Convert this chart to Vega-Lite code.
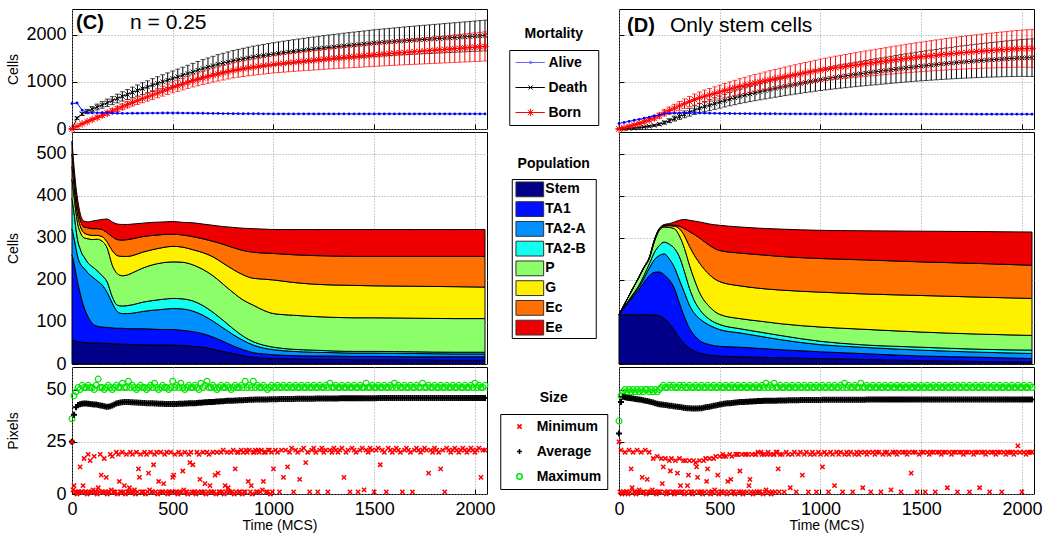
{
"$schema":"https://vega.github.io/schema/vega-lite/v6.json",
"padding":{"left":5,"top":8,"right":2,"bottom":0},
"config":{
 "font":"Liberation Sans",
 "view":{"stroke":"black","strokeWidth":1},
 "point":{"opacity":1},
 "axis":{"domain":false,"grid":true,"gridDash":[1,2],"gridColor":"#9a9a9a","gridOpacity":1,"tickColor":"black","tickSize":-5,"tickWidth":1,"labelFontSize":18,"labelColor":"black","labelPadding":11,"labelFlush":false,"titleFontSize":14,"titleFontWeight":"normal","titleColor":"black","format":"d"},
 "title":{"color":"black","fontWeight":"bold","fontSize":14}
},
"datasets":{
"cTop":[
{"t":0,"a":540,"d":0,"ds":0,"b":0,"bs":0},{"t":25,"a":550,"d":230,"ds":25,"b":55,"bs":8},{"t":50,"a":400,"d":320,"ds":35,"b":110,"bs":14},{"t":75,"a":350,"d":370,"ds":45,"b":155,"bs":20},{"t":100,"a":340,"d":420,"ds":55,"b":200,"bs":26},{"t":125,"a":342,"d":465,"ds":62,"b":245,"bs":32},{"t":150,"a":344,"d":510,"ds":70,"b":290,"bs":38},{"t":175,"a":345,"d":555,"ds":78,"b":335,"bs":44},{"t":200,"a":338,"d":600,"ds":85,"b":380,"bs":50},{"t":225,"a":333,"d":645,"ds":92,"b":425,"bs":56},{"t":250,"a":332,"d":690,"ds":99,"b":470,"bs":62},{"t":275,"a":332,"d":730,"ds":105,"b":515,"bs":68},{"t":300,"a":333,"d":775,"ds":112,"b":560,"bs":74},{"t":325,"a":334,"d":815,"ds":118,"b":600,"bs":79},{"t":350,"a":335,"d":855,"ds":124,"b":640,"bs":84},{"t":375,"a":336,"d":890,"ds":130,"b":680,"bs":89},{"t":400,"a":337,"d":930,"ds":136,"b":720,"bs":94},{"t":425,"a":337,"d":965,"ds":142,"b":760,"bs":99},{"t":450,"a":338,"d":1000,"ds":148,"b":800,"bs":104},{"t":475,"a":338,"d":1035,"ds":153,"b":840,"bs":109},{"t":500,"a":339,"d":1070,"ds":158,"b":880,"bs":114},{"t":525,"a":338,"d":1105,"ds":163,"b":915,"bs":118},{"t":550,"a":337,"d":1140,"ds":168,"b":950,"bs":122},{"t":575,"a":337,"d":1175,"ds":174,"b":985,"bs":126},{"t":600,"a":336,"d":1210,"ds":179,"b":1020,"bs":130},{"t":625,"a":335,"d":1245,"ds":184,"b":1050,"bs":134},{"t":650,"a":333,"d":1280,"ds":189,"b":1080,"bs":138},{"t":675,"a":332,"d":1310,"ds":194,"b":1110,"bs":142},{"t":700,"a":330,"d":1340,"ds":199,"b":1140,"bs":146},{"t":725,"a":329,"d":1370,"ds":204,"b":1165,"bs":150},{"t":750,"a":327,"d":1395,"ds":208,"b":1190,"bs":153},{"t":775,"a":326,"d":1420,"ds":212,"b":1215,"bs":156},{"t":800,"a":325,"d":1445,"ds":216,"b":1240,"bs":159},{"t":825,"a":324,"d":1465,"ds":220,"b":1258,"bs":162},{"t":850,"a":323,"d":1485,"ds":223,"b":1276,"bs":165},{"t":875,"a":323,"d":1505,"ds":226,"b":1294,"bs":168},{"t":900,"a":322,"d":1525,"ds":229,"b":1310,"bs":171},{"t":925,"a":322,"d":1540,"ds":232,"b":1325,"bs":174},{"t":950,"a":321,"d":1555,"ds":235,"b":1340,"bs":177},{"t":975,"a":321,"d":1570,"ds":238,"b":1355,"bs":180},{"t":1000,"a":320,"d":1585,"ds":241,"b":1370,"bs":183},{"t":1025,"a":320,"d":1600,"ds":243,"b":1381,"bs":186},{"t":1050,"a":320,"d":1614,"ds":245,"b":1392,"bs":189},{"t":1075,"a":320,"d":1628,"ds":247,"b":1403,"bs":192},{"t":1100,"a":320,"d":1641,"ds":249,"b":1414,"bs":195},{"t":1125,"a":320,"d":1654,"ds":251,"b":1425,"bs":198},{"t":1150,"a":320,"d":1667,"ds":253,"b":1436,"bs":201},{"t":1175,"a":320,"d":1679,"ds":255,"b":1446,"bs":204},{"t":1200,"a":320,"d":1691,"ds":257,"b":1456,"bs":207},{"t":1225,"a":320,"d":1703,"ds":259,"b":1466,"bs":210},{"t":1250,"a":320,"d":1715,"ds":261,"b":1476,"bs":213},{"t":1275,"a":320,"d":1726,"ds":263,"b":1486,"bs":216},{"t":1300,"a":320,"d":1737,"ds":265,"b":1496,"bs":219},{"t":1325,"a":320,"d":1748,"ds":267,"b":1505,"bs":222},{"t":1350,"a":320,"d":1759,"ds":269,"b":1514,"bs":225},{"t":1375,"a":320,"d":1769,"ds":271,"b":1523,"bs":228},{"t":1400,"a":320,"d":1779,"ds":273,"b":1532,"bs":231},{"t":1425,"a":320,"d":1789,"ds":275,"b":1541,"bs":234},{"t":1450,"a":320,"d":1799,"ds":277,"b":1550,"bs":237},{"t":1475,"a":320,"d":1809,"ds":279,"b":1559,"bs":240},{"t":1500,"a":320,"d":1819,"ds":281,"b":1568,"bs":243},{"t":1525,"a":320,"d":1827,"ds":283,"b":1577,"bs":246},{"t":1550,"a":320,"d":1835,"ds":285,"b":1586,"bs":249},{"t":1575,"a":320,"d":1843,"ds":287,"b":1595,"bs":252},{"t":1600,"a":320,"d":1851,"ds":289,"b":1604,"bs":255},{"t":1625,"a":320,"d":1859,"ds":291,"b":1612,"bs":258},{"t":1650,"a":320,"d":1867,"ds":293,"b":1620,"bs":261},{"t":1675,"a":320,"d":1874,"ds":295,"b":1628,"bs":264},{"t":1700,"a":320,"d":1881,"ds":297,"b":1636,"bs":267},{"t":1725,"a":320,"d":1888,"ds":299,"b":1644,"bs":270},{"t":1750,"a":320,"d":1895,"ds":301,"b":1652,"bs":273},{"t":1775,"a":320,"d":1902,"ds":303,"b":1660,"bs":276},{"t":1800,"a":320,"d":1909,"ds":305,"b":1668,"bs":279},{"t":1825,"a":320,"d":1916,"ds":307,"b":1676,"bs":282},{"t":1850,"a":320,"d":1923,"ds":309,"b":1684,"bs":285},{"t":1875,"a":320,"d":1930,"ds":311,"b":1692,"bs":288},{"t":1900,"a":320,"d":1937,"ds":313,"b":1700,"bs":291},{"t":1925,"a":320,"d":1944,"ds":315,"b":1708,"bs":294},{"t":1950,"a":320,"d":1951,"ds":317,"b":1716,"bs":297},{"t":1975,"a":320,"d":1958,"ds":319,"b":1724,"bs":300},{"t":2000,"a":320,"d":1965,"ds":321,"b":1732,"bs":303},{"t":2025,"a":320,"d":1972,"ds":323,"b":1740,"bs":306},{"t":2050,"a":320,"d":1979,"ds":325,"b":1748,"bs":309}
],
"dTop":[
{"t":0,"a":117,"d":0,"ds":0,"b":0,"bs":0},{"t":25,"a":140,"d":5,"ds":2,"b":28,"bs":6},{"t":50,"a":163,"d":12,"ds":4,"b":58,"bs":12},{"t":75,"a":185,"d":20,"ds":6,"b":88,"bs":18},{"t":100,"a":205,"d":30,"ds":9,"b":118,"bs":24},{"t":125,"a":228,"d":42,"ds":12,"b":153,"bs":30},{"t":150,"a":250,"d":57,"ds":15,"b":190,"bs":37},{"t":175,"a":275,"d":75,"ds":19,"b":233,"bs":45},{"t":200,"a":300,"d":100,"ds":25,"b":283,"bs":55},{"t":225,"a":325,"d":135,"ds":33,"b":343,"bs":66},{"t":250,"a":332,"d":175,"ds":42,"b":390,"bs":75},{"t":275,"a":336,"d":220,"ds":52,"b":439,"bs":84},{"t":300,"a":341,"d":265,"ds":62,"b":489,"bs":93},{"t":325,"a":343,"d":310,"ds":72,"b":536,"bs":101},{"t":350,"a":342,"d":355,"ds":82,"b":580,"bs":109},{"t":375,"a":340,"d":400,"ds":92,"b":623,"bs":117},{"t":400,"a":338,"d":440,"ds":100,"b":661,"bs":124},{"t":425,"a":336,"d":475,"ds":108,"b":694,"bs":130},{"t":450,"a":334,"d":505,"ds":115,"b":722,"bs":135},{"t":475,"a":332,"d":538,"ds":122,"b":753,"bs":140},{"t":500,"a":330,"d":570,"ds":128,"b":783,"bs":145},{"t":525,"a":329,"d":601,"ds":134,"b":813,"bs":150},{"t":550,"a":328,"d":632,"ds":140,"b":843,"bs":155},{"t":575,"a":327,"d":661,"ds":146,"b":871,"bs":160},{"t":600,"a":326,"d":690,"ds":152,"b":899,"bs":165},{"t":625,"a":325,"d":716,"ds":157,"b":924,"bs":170},{"t":650,"a":325,"d":742,"ds":162,"b":950,"bs":175},{"t":675,"a":324,"d":766,"ds":167,"b":973,"bs":180},{"t":700,"a":323,"d":790,"ds":172,"b":996,"bs":185},{"t":725,"a":323,"d":813,"ds":177,"b":1019,"bs":189},{"t":750,"a":322,"d":836,"ds":182,"b":1041,"bs":193},{"t":775,"a":322,"d":858,"ds":186,"b":1063,"bs":197},{"t":800,"a":321,"d":880,"ds":190,"b":1084,"bs":201},{"t":825,"a":321,"d":902,"ds":195,"b":1106,"bs":205},{"t":850,"a":320,"d":923,"ds":200,"b":1126,"bs":209},{"t":875,"a":320,"d":944,"ds":205,"b":1147,"bs":213},{"t":900,"a":319,"d":965,"ds":210,"b":1167,"bs":217},{"t":925,"a":319,"d":985,"ds":215,"b":1187,"bs":221},{"t":950,"a":319,"d":1005,"ds":220,"b":1207,"bs":225},{"t":975,"a":318,"d":1025,"ds":225,"b":1226,"bs":229},{"t":1000,"a":318,"d":1045,"ds":230,"b":1246,"bs":233},{"t":1025,"a":318,"d":1062,"ds":234,"b":1263,"bs":237},{"t":1050,"a":318,"d":1079,"ds":238,"b":1280,"bs":241},{"t":1075,"a":318,"d":1095,"ds":242,"b":1296,"bs":245},{"t":1100,"a":317,"d":1110,"ds":246,"b":1310,"bs":249},{"t":1125,"a":317,"d":1125,"ds":250,"b":1325,"bs":253},{"t":1150,"a":317,"d":1140,"ds":254,"b":1340,"bs":257},{"t":1175,"a":317,"d":1155,"ds":258,"b":1355,"bs":261},{"t":1200,"a":317,"d":1170,"ds":262,"b":1370,"bs":265},{"t":1225,"a":317,"d":1184,"ds":266,"b":1384,"bs":269},{"t":1250,"a":316,"d":1198,"ds":270,"b":1397,"bs":273},{"t":1275,"a":316,"d":1212,"ds":274,"b":1411,"bs":277},{"t":1300,"a":316,"d":1225,"ds":278,"b":1424,"bs":281},{"t":1325,"a":316,"d":1238,"ds":282,"b":1437,"bs":285},{"t":1350,"a":316,"d":1252,"ds":286,"b":1451,"bs":289},{"t":1375,"a":316,"d":1266,"ds":290,"b":1465,"bs":293},{"t":1400,"a":316,"d":1280,"ds":294,"b":1479,"bs":297},{"t":1425,"a":316,"d":1293,"ds":298,"b":1492,"bs":301},{"t":1450,"a":315,"d":1305,"ds":302,"b":1503,"bs":305},{"t":1475,"a":315,"d":1318,"ds":306,"b":1516,"bs":309},{"t":1500,"a":315,"d":1330,"ds":310,"b":1528,"bs":313},{"t":1525,"a":315,"d":1341,"ds":314,"b":1539,"bs":317},{"t":1550,"a":315,"d":1352,"ds":318,"b":1550,"bs":321},{"t":1575,"a":315,"d":1363,"ds":322,"b":1561,"bs":325},{"t":1600,"a":315,"d":1375,"ds":326,"b":1573,"bs":329},{"t":1625,"a":315,"d":1385,"ds":330,"b":1583,"bs":333},{"t":1650,"a":315,"d":1395,"ds":334,"b":1593,"bs":337},{"t":1675,"a":315,"d":1405,"ds":338,"b":1603,"bs":341},{"t":1700,"a":315,"d":1415,"ds":342,"b":1613,"bs":345},{"t":1725,"a":315,"d":1424,"ds":346,"b":1622,"bs":349},{"t":1750,"a":314,"d":1433,"ds":350,"b":1630,"bs":353},{"t":1775,"a":314,"d":1441,"ds":354,"b":1638,"bs":357},{"t":1800,"a":314,"d":1450,"ds":358,"b":1647,"bs":361},{"t":1825,"a":314,"d":1458,"ds":362,"b":1655,"bs":365},{"t":1850,"a":314,"d":1465,"ds":366,"b":1662,"bs":369},{"t":1875,"a":314,"d":1472,"ds":370,"b":1669,"bs":373},{"t":1900,"a":314,"d":1480,"ds":374,"b":1677,"bs":377},{"t":1925,"a":314,"d":1487,"ds":378,"b":1684,"bs":381},{"t":1950,"a":314,"d":1493,"ds":382,"b":1690,"bs":385},{"t":1975,"a":314,"d":1499,"ds":386,"b":1696,"bs":389},{"t":2000,"a":314,"d":1504,"ds":390,"b":1701,"bs":393},{"t":2025,"a":314,"d":1507,"ds":394,"b":1704,"bs":397},{"t":2050,"a":314,"d":1510,"ds":398,"b":1707,"bs":401}
],
"cMid":[
{"t":0,"Stem":56,"TA1":204,"TA2-A":62,"TA2-B":72,"P":46,"G":30,"Ec":30,"Ee":30},
{"t":10,"Stem":55,"TA1":185,"TA2-A":60,"TA2-B":60,"P":40,"G":25,"Ec":25,"Ee":20},
{"t":20,"Stem":54,"TA1":161,"TA2-A":60,"TA2-B":45,"P":40,"G":20,"Ec":20,"Ee":20},
{"t":30,"Stem":53,"TA1":137,"TA2-A":62,"TA2-B":38,"P":40,"G":20,"Ec":18,"Ee":17},
{"t":40,"Stem":52,"TA1":118,"TA2-A":70,"TA2-B":35,"P":40,"G":15,"Ec":15,"Ee":15},
{"t":50,"Stem":52,"TA1":98,"TA2-A":82,"TA2-B":30,"P":43,"G":13,"Ec":14,"Ee":13},
{"t":60,"Stem":51,"TA1":84,"TA2-A":93,"TA2-B":27,"P":45,"G":12,"Ec":14,"Ee":14},
{"t":80,"Stem":51,"TA1":61,"TA2-A":104,"TA2-B":24,"P":58,"G":10,"Ec":16,"Ee":14},
{"t":100,"Stem":50,"TA1":47,"TA2-A":111,"TA2-B":24,"P":64,"G":10,"Ec":16,"Ee":18},
{"t":125,"Stem":50,"TA1":40,"TA2-A":108,"TA2-B":24,"P":75,"G":9,"Ec":16,"Ee":20},
{"t":150,"Stem":49,"TA1":39,"TA2-A":100,"TA2-B":22,"P":82,"G":11,"Ec":17,"Ee":24},
{"t":175,"Stem":49,"TA1":38,"TA2-A":83,"TA2-B":25,"P":81,"G":14,"Ec":22,"Ee":33},
{"t":200,"Stem":48,"TA1":38,"TA2-A":59,"TA2-B":15,"P":75,"G":35,"Ec":33,"Ee":35},
{"t":225,"Stem":48,"TA1":37,"TA2-A":40,"TA2-B":15,"P":75,"G":43,"Ec":38,"Ee":37},
{"t":250,"Stem":47,"TA1":38,"TA2-A":35,"TA2-B":18,"P":72,"G":46,"Ec":39,"Ee":37},
{"t":275,"Stem":47,"TA1":37,"TA2-A":36,"TA2-B":19,"P":73,"G":44,"Ec":40,"Ee":36},
{"t":300,"Stem":46,"TA1":38,"TA2-A":37,"TA2-B":20,"P":76,"G":41,"Ec":40,"Ee":35},
{"t":350,"Stem":46,"TA1":38,"TA2-A":41,"TA2-B":22,"P":81,"G":38,"Ec":37,"Ee":32},
{"t":400,"Stem":45,"TA1":38,"TA2-A":45,"TA2-B":23,"P":85,"G":36,"Ec":34,"Ee":31},
{"t":450,"Stem":45,"TA1":37,"TA2-A":48,"TA2-B":24,"P":87,"G":36,"Ec":31,"Ee":30},
{"t":500,"Stem":45,"TA1":37,"TA2-A":50,"TA2-B":24,"P":87,"G":37,"Ec":29,"Ee":30},
{"t":550,"Stem":44,"TA1":36,"TA2-A":51,"TA2-B":24,"P":87,"G":36,"Ec":29,"Ee":30},
{"t":600,"Stem":42,"TA1":35,"TA2-A":49,"TA2-B":24,"P":86,"G":36,"Ec":31,"Ee":33},
{"t":650,"Stem":40,"TA1":32,"TA2-A":44,"TA2-B":23,"P":86,"G":40,"Ec":33,"Ee":35},
{"t":700,"Stem":35,"TA1":29,"TA2-A":38,"TA2-B":21,"P":87,"G":45,"Ec":37,"Ee":38},
{"t":750,"Stem":30,"TA1":24,"TA2-A":32,"TA2-B":18,"P":86,"G":50,"Ec":45,"Ee":42},
{"t":800,"Stem":25,"TA1":18,"TA2-A":27,"TA2-B":14,"P":86,"G":55,"Ec":52,"Ee":48},
{"t":850,"Stem":20,"TA1":14,"TA2-A":22,"TA2-B":10,"P":86,"G":60,"Ec":58,"Ee":53},
{"t":900,"Stem":16,"TA1":11,"TA2-A":18,"TA2-B":8,"P":87,"G":64,"Ec":62,"Ee":56},
{"t":950,"Stem":14,"TA1":10,"TA2-A":14,"TA2-B":7,"P":83,"G":74,"Ec":62,"Ee":57},
{"t":1000,"Stem":13,"TA1":9,"TA2-A":12,"TA2-B":6,"P":80,"G":80,"Ec":63,"Ee":57},
{"t":1100,"Stem":12,"TA1":8,"TA2-A":10,"TA2-B":5,"P":81,"G":78,"Ec":66,"Ee":60},
{"t":1200,"Stem":11,"TA1":8,"TA2-A":9,"TA2-B":5,"P":80,"G":77,"Ec":68,"Ee":62},
{"t":1300,"Stem":11,"TA1":8,"TA2-A":8,"TA2-B":4,"P":80,"G":77,"Ec":69,"Ee":63},
{"t":1400,"Stem":10,"TA1":8,"TA2-A":8,"TA2-B":4,"P":80,"G":77,"Ec":69,"Ee":64},
{"t":1500,"Stem":10,"TA1":8,"TA2-A":8,"TA2-B":4,"P":80,"G":76,"Ec":70,"Ee":64},
{"t":1700,"Stem":10,"TA1":7,"TA2-A":8,"TA2-B":4,"P":80,"G":76,"Ec":71,"Ee":64},
{"t":1900,"Stem":9,"TA1":8,"TA2-A":7,"TA2-B":4,"P":80,"G":76,"Ec":72,"Ee":64},
{"t":2050,"Stem":9,"TA1":8,"TA2-A":7,"TA2-B":4,"P":80,"G":75,"Ec":73,"Ee":64}
],
"dMid":[
{"t":0,"Stem":117,"TA1":0,"TA2-A":0,"TA2-B":0,"P":0,"G":0,"Ec":0,"Ee":0},
{"t":25,"Stem":117,"TA1":16,"TA2-A":2,"TA2-B":1,"P":4,"G":0,"Ec":0,"Ee":0},
{"t":50,"Stem":117,"TA1":31,"TA2-A":3,"TA2-B":2,"P":10,"G":0,"Ec":0,"Ee":0},
{"t":75,"Stem":117,"TA1":46,"TA2-A":4,"TA2-B":3,"P":15,"G":0,"Ec":0,"Ee":1},
{"t":100,"Stem":117,"TA1":61,"TA2-A":6,"TA2-B":4,"P":19,"G":1,"Ec":0,"Ee":0},
{"t":125,"Stem":117,"TA1":78,"TA2-A":10,"TA2-B":7,"P":18,"G":1,"Ec":0,"Ee":0},
{"t":150,"Stem":117,"TA1":93,"TA2-A":18,"TA2-B":10,"P":12,"G":2,"Ec":1,"Ee":0},
{"t":175,"Stem":117,"TA1":101,"TA2-A":30,"TA2-B":17,"P":25,"G":3,"Ec":1,"Ee":0},
{"t":200,"Stem":115,"TA1":104,"TA2-A":39,"TA2-B":24,"P":36,"G":3,"Ec":1,"Ee":0},
{"t":225,"Stem":108,"TA1":104,"TA2-A":50,"TA2-B":28,"P":36,"G":2,"Ec":2,"Ee":2},
{"t":250,"Stem":96,"TA1":104,"TA2-A":50,"TA2-B":35,"P":40,"G":4,"Ec":2,"Ee":3},
{"t":275,"Stem":80,"TA1":100,"TA2-A":50,"TA2-B":45,"P":47,"G":6,"Ec":2,"Ee":8},
{"t":300,"Stem":62,"TA1":83,"TA2-A":55,"TA2-B":55,"P":50,"G":17,"Ec":6,"Ee":14},
{"t":325,"Stem":48,"TA1":64,"TA2-A":58,"TA2-B":50,"P":55,"G":30,"Ec":17,"Ee":22},
{"t":350,"Stem":38,"TA1":47,"TA2-A":55,"TA2-B":40,"P":55,"G":45,"Ec":35,"Ee":27},
{"t":375,"Stem":31,"TA1":37,"TA2-A":52,"TA2-B":30,"P":50,"G":58,"Ec":50,"Ee":32},
{"t":400,"Stem":26,"TA1":30,"TA2-A":52,"TA2-B":22,"P":40,"G":70,"Ec":60,"Ee":38},
{"t":450,"Stem":21,"TA1":25,"TA2-A":46,"TA2-B":14,"P":30,"G":76,"Ec":70,"Ee":51},
{"t":500,"Stem":19,"TA1":23,"TA2-A":40,"TA2-B":12,"P":24,"G":78,"Ec":74,"Ee":60},
{"t":600,"Stem":17,"TA1":23,"TA2-A":34,"TA2-B":10,"P":24,"G":78,"Ec":78,"Ee":62},
{"t":700,"Stem":16,"TA1":21,"TA2-A":29,"TA2-B":10,"P":26,"G":78,"Ec":80,"Ee":63},
{"t":800,"Stem":15,"TA1":19,"TA2-A":24,"TA2-B":10,"P":28,"G":80,"Ec":80,"Ee":65},
{"t":1000,"Stem":13,"TA1":16,"TA2-A":17,"TA2-B":8,"P":34,"G":83,"Ec":80,"Ee":67},
{"t":1200,"Stem":11,"TA1":14,"TA2-A":15,"TA2-B":6,"P":37,"G":84,"Ec":81,"Ee":69},
{"t":1500,"Stem":8,"TA1":11,"TA2-A":14,"TA2-B":7,"P":36,"G":87,"Ec":80,"Ee":73},
{"t":1800,"Stem":6,"TA1":10,"TA2-A":12,"TA2-B":7,"P":36,"G":88,"Ec":80,"Ee":76},
{"t":2050,"Stem":5,"TA1":8,"TA2-A":12,"TA2-B":8,"P":35,"G":88,"Ec":79,"Ee":79}
],
"cMin2":[
{"t":5,"mn":2},{"t":15,"mn":1},{"t":25,"mn":0},{"t":35,"mn":1},{"t":45,"mn":1},{"t":55,"mn":4},{"t":65,"mn":1},{"t":75,"mn":0},{"t":85,"mn":1},{"t":95,"mn":1},{"t":105,"mn":2},{"t":115,"mn":1},{"t":125,"mn":0},{"t":135,"mn":1},{"t":145,"mn":9},{"t":155,"mn":1},{"t":165,"mn":1},{"t":175,"mn":0},{"t":185,"mn":1},{"t":195,"mn":2},{"t":205,"mn":1},{"t":215,"mn":1},{"t":225,"mn":0},{"t":235,"mn":6},{"t":245,"mn":1},{"t":255,"mn":1},{"t":265,"mn":0},{"t":275,"mn":1},{"t":285,"mn":3},{"t":295,"mn":1},{"t":305,"mn":1},{"t":315,"mn":0},{"t":325,"mn":1},{"t":335,"mn":8},{"t":345,"mn":1},{"t":355,"mn":1},{"t":365,"mn":0},{"t":375,"mn":1},{"t":385,"mn":2},{"t":395,"mn":1},{"t":405,"mn":14},{"t":415,"mn":1},{"t":425,"mn":0},{"t":435,"mn":1},{"t":445,"mn":1},{"t":455,"mn":5},{"t":465,"mn":1},{"t":475,"mn":0},{"t":485,"mn":1},{"t":495,"mn":1},{"t":505,"mn":9},{"t":515,"mn":1},{"t":525,"mn":0},{"t":535,"mn":1},{"t":545,"mn":1},{"t":555,"mn":2},{"t":565,"mn":1},{"t":575,"mn":0},{"t":585,"mn":15},{"t":595,"mn":1},{"t":605,"mn":1},{"t":615,"mn":0},{"t":625,"mn":1},{"t":635,"mn":7},{"t":645,"mn":1},{"t":655,"mn":1},{"t":665,"mn":0},{"t":675,"mn":1},{"t":685,"mn":4},{"t":695,"mn":1},{"t":705,"mn":1},{"t":715,"mn":0},{"t":725,"mn":10},{"t":735,"mn":1},{"t":745,"mn":1},{"t":755,"mn":0},{"t":765,"mn":1},{"t":775,"mn":3},{"t":785,"mn":1},{"t":795,"mn":1},{"t":805,"mn":0},{"t":815,"mn":1},{"t":825,"mn":20},{"t":835,"mn":1},{"t":845,"mn":0},{"t":855,"mn":1},{"t":865,"mn":21},{"t":875,"mn":6},{"t":885,"mn":1},{"t":895,"mn":0},{"t":905,"mn":20},{"t":915,"mn":1},{"t":925,"mn":21},{"t":935,"mn":1},{"t":945,"mn":2},{"t":955,"mn":20},{"t":965,"mn":1},{"t":975,"mn":21},{"t":985,"mn":0},{"t":995,"mn":1}
],
"dMin2":[
{"t":5,"mn":1},{"t":15,"mn":0},{"t":25,"mn":1},{"t":35,"mn":1},{"t":45,"mn":0},{"t":55,"mn":1},{"t":65,"mn":3},{"t":75,"mn":1},{"t":85,"mn":0},{"t":95,"mn":1},{"t":105,"mn":1},{"t":115,"mn":8},{"t":125,"mn":1},{"t":135,"mn":0},{"t":145,"mn":1},{"t":155,"mn":1},{"t":165,"mn":2},{"t":175,"mn":1},{"t":185,"mn":0},{"t":195,"mn":1},{"t":205,"mn":1},{"t":215,"mn":5},{"t":225,"mn":1},{"t":235,"mn":0},{"t":245,"mn":1},{"t":255,"mn":11},{"t":265,"mn":1},{"t":275,"mn":0},{"t":285,"mn":1},{"t":295,"mn":1},{"t":305,"mn":4},{"t":315,"mn":1},{"t":325,"mn":0},{"t":335,"mn":1},{"t":345,"mn":9},{"t":355,"mn":1},{"t":365,"mn":0},{"t":375,"mn":1},{"t":385,"mn":13},{"t":395,"mn":1},{"t":405,"mn":1},{"t":415,"mn":0},{"t":425,"mn":1},{"t":435,"mn":6},{"t":445,"mn":1},{"t":455,"mn":0},{"t":465,"mn":1},{"t":475,"mn":2},{"t":485,"mn":1},{"t":495,"mn":0},{"t":505,"mn":1},{"t":515,"mn":19},{"t":525,"mn":1},{"t":535,"mn":0},{"t":545,"mn":1},{"t":555,"mn":7},{"t":565,"mn":1},{"t":575,"mn":0},{"t":585,"mn":19},{"t":595,"mn":1},{"t":605,"mn":1},{"t":615,"mn":0},{"t":625,"mn":19},{"t":635,"mn":1},{"t":645,"mn":4},{"t":655,"mn":1},{"t":665,"mn":0},{"t":675,"mn":19},{"t":685,"mn":1},{"t":695,"mn":1},{"t":705,"mn":20},{"t":715,"mn":0},{"t":725,"mn":1},{"t":735,"mn":19},{"t":745,"mn":1},{"t":755,"mn":0},{"t":765,"mn":19},{"t":775,"mn":1},{"t":785,"mn":20},{"t":795,"mn":1}
],
"cBot":[
{"t":0,"av":25,"mx":36,"mn":25},{"t":10,"av":38,"mx":47,"mn":4},{"t":20,"av":41.5,"mx":49,"mn":1},{"t":30,"av":42.6,"mx":51,"mn":1},{"t":40,"av":43,"mx":50,"mn":13},{"t":50,"av":43.2,"mx":52,"mn":1},{"t":60,"av":43.3,"mx":51,"mn":17},{"t":70,"av":43.3,"mx":51,"mn":1},{"t":80,"av":43.2,"mx":52,"mn":19},{"t":90,"av":43.1,"mx":51,"mn":16},{"t":100,"av":43,"mx":51,"mn":1},{"t":110,"av":42.9,"mx":50,"mn":18},{"t":120,"av":42.8,"mx":52,"mn":1},{"t":130,"av":42.6,"mx":55,"mn":3},{"t":140,"av":42.4,"mx":51,"mn":19},{"t":150,"av":42.2,"mx":51,"mn":1},{"t":160,"av":42,"mx":50,"mn":17},{"t":170,"av":41.8,"mx":51,"mn":8},{"t":180,"av":41.8,"mx":52,"mn":1},{"t":190,"av":42,"mx":51,"mn":19},{"t":200,"av":42.4,"mx":50,"mn":18},{"t":210,"av":42.9,"mx":51,"mn":1},{"t":220,"av":43.3,"mx":52,"mn":20},{"t":230,"av":43.6,"mx":51,"mn":19},{"t":240,"av":43.8,"mx":51,"mn":1},{"t":250,"av":43.9,"mx":53,"mn":20},{"t":260,"av":44,"mx":51,"mn":4},{"t":270,"av":44,"mx":51,"mn":19},{"t":280,"av":44,"mx":54,"mn":1},{"t":290,"av":43.9,"mx":51,"mn":20},{"t":300,"av":43.9,"mx":52,"mn":19},{"t":310,"av":43.8,"mx":51,"mn":2},{"t":320,"av":43.8,"mx":50,"mn":20},{"t":330,"av":43.7,"mx":51,"mn":12},{"t":340,"av":43.7,"mx":52,"mn":19},{"t":350,"av":43.6,"mx":51,"mn":1},{"t":360,"av":43.6,"mx":51,"mn":20},{"t":370,"av":43.5,"mx":50,"mn":19},{"t":380,"av":43.5,"mx":51,"mn":10},{"t":390,"av":43.4,"mx":52,"mn":20},{"t":400,"av":43.4,"mx":51,"mn":1},{"t":410,"av":43.3,"mx":53,"mn":19},{"t":420,"av":43.3,"mx":51,"mn":20},{"t":430,"av":43.2,"mx":50,"mn":6},{"t":440,"av":43.2,"mx":51,"mn":20},{"t":450,"av":43.2,"mx":52,"mn":1},{"t":460,"av":43.1,"mx":51,"mn":19},{"t":470,"av":43.1,"mx":51,"mn":20},{"t":480,"av":43.1,"mx":50,"mn":1},{"t":490,"av":43.1,"mx":51,"mn":20},{"t":500,"av":43.1,"mx":54,"mn":8},{"t":510,"av":43.1,"mx":51,"mn":19},{"t":520,"av":43.1,"mx":52,"mn":1},{"t":530,"av":43.2,"mx":51,"mn":20},{"t":540,"av":43.2,"mx":53,"mn":19},{"t":550,"av":43.2,"mx":51,"mn":11},{"t":560,"av":43.3,"mx":50,"mn":20},{"t":570,"av":43.3,"mx":51,"mn":1},{"t":580,"av":43.4,"mx":52,"mn":19},{"t":590,"av":43.4,"mx":51,"mn":20},{"t":600,"av":43.5,"mx":51,"mn":14},{"t":610,"av":43.5,"mx":52,"mn":1},{"t":620,"av":43.6,"mx":51,"mn":20},{"t":630,"av":43.7,"mx":50,"mn":19},{"t":640,"av":43.7,"mx":53,"mn":1},{"t":650,"av":43.8,"mx":51,"mn":20},{"t":660,"av":43.9,"mx":52,"mn":5},{"t":670,"av":43.9,"mx":54,"mn":20},{"t":680,"av":44,"mx":51,"mn":19},{"t":690,"av":44.1,"mx":51,"mn":1},{"t":700,"av":44.1,"mx":52,"mn":20},{"t":710,"av":44.2,"mx":51,"mn":9},{"t":720,"av":44.3,"mx":50,"mn":20},{"t":730,"av":44.3,"mx":51,"mn":1},{"t":740,"av":44.4,"mx":52,"mn":20},{"t":750,"av":44.4,"mx":51,"mn":21},{"t":760,"av":44.5,"mx":51,"mn":4},{"t":770,"av":44.6,"mx":52,"mn":20},{"t":780,"av":44.6,"mx":51,"mn":1},{"t":790,"av":44.7,"mx":50,"mn":20},{"t":800,"av":44.7,"mx":51,"mn":21},{"t":810,"av":44.8,"mx":52,"mn":12},{"t":820,"av":44.8,"mx":51,"mn":20},{"t":830,"av":44.9,"mx":51,"mn":1},{"t":840,"av":44.9,"mx":52,"mn":21},{"t":850,"av":44.9,"mx":51,"mn":20},{"t":860,"av":45,"mx":54,"mn":1},{"t":870,"av":45,"mx":51,"mn":20},{"t":880,"av":45.1,"mx":52,"mn":21},{"t":890,"av":45.1,"mx":51,"mn":4},{"t":900,"av":45.1,"mx":54,"mn":20},{"t":910,"av":45.2,"mx":51,"mn":21},{"t":920,"av":45.2,"mx":52,"mn":1},{"t":930,"av":45.2,"mx":51,"mn":20},{"t":940,"av":45.3,"mx":51,"mn":21},{"t":950,"av":45.3,"mx":52,"mn":6},{"t":960,"av":45.3,"mx":51,"mn":20},{"t":970,"av":45.3,"mx":50,"mn":1},{"t":980,"av":45.4,"mx":51,"mn":21},{"t":990,"av":45.4,"mx":52,"mn":20},{"t":1000,"av":45.4,"mx":51,"mn":12},{"t":1010,"av":45.4,"mx":51,"mn":21},{"t":1020,"av":45.4,"mx":52,"mn":20},{"t":1030,"av":45.5,"mx":51,"mn":1},{"t":1040,"av":45.5,"mx":51,"mn":21},{"t":1050,"av":45.5,"mx":52,"mn":8},{"t":1060,"av":45.5,"mx":51,"mn":21},{"t":1070,"av":45.5,"mx":51,"mn":13},{"t":1080,"av":45.5,"mx":52,"mn":20},{"t":1090,"av":45.5,"mx":51,"mn":22},{"t":1100,"av":45.5,"mx":51,"mn":1},{"t":1110,"av":45.6,"mx":52,"mn":21},{"t":1120,"av":45.6,"mx":51,"mn":20},{"t":1130,"av":45.6,"mx":51,"mn":7},{"t":1140,"av":45.6,"mx":52,"mn":21},{"t":1150,"av":45.6,"mx":51,"mn":22},{"t":1160,"av":45.6,"mx":51,"mn":15},{"t":1170,"av":45.6,"mx":52,"mn":20},{"t":1180,"av":45.6,"mx":51,"mn":1},{"t":1190,"av":45.6,"mx":51,"mn":21},{"t":1200,"av":45.6,"mx":52,"mn":22},{"t":1210,"av":45.7,"mx":51,"mn":20},{"t":1220,"av":45.7,"mx":51,"mn":1},{"t":1230,"av":45.7,"mx":52,"mn":21},{"t":1240,"av":45.7,"mx":51,"mn":22},{"t":1250,"av":45.7,"mx":51,"mn":20},{"t":1260,"av":45.7,"mx":52,"mn":21},{"t":1270,"av":45.7,"mx":51,"mn":1},{"t":1280,"av":45.7,"mx":53,"mn":21},{"t":1290,"av":45.7,"mx":51,"mn":20},{"t":1300,"av":45.7,"mx":51,"mn":22},{"t":1310,"av":45.7,"mx":52,"mn":21},{"t":1320,"av":45.7,"mx":51,"mn":20},{"t":1330,"av":45.8,"mx":51,"mn":21},{"t":1340,"av":45.8,"mx":52,"mn":22},{"t":1350,"av":45.8,"mx":51,"mn":8},{"t":1360,"av":45.8,"mx":51,"mn":20},{"t":1370,"av":45.8,"mx":52,"mn":21},{"t":1380,"av":45.8,"mx":51,"mn":1},{"t":1390,"av":45.8,"mx":51,"mn":22},{"t":1400,"av":45.8,"mx":52,"mn":21},{"t":1410,"av":45.8,"mx":51,"mn":20},{"t":1420,"av":45.8,"mx":51,"mn":1},{"t":1430,"av":45.8,"mx":52,"mn":21},{"t":1440,"av":45.8,"mx":51,"mn":22},{"t":1450,"av":45.8,"mx":51,"mn":2},{"t":1460,"av":45.8,"mx":53,"mn":21},{"t":1470,"av":45.8,"mx":51,"mn":20},{"t":1480,"av":45.8,"mx":51,"mn":22},{"t":1490,"av":45.8,"mx":52,"mn":21},{"t":1500,"av":45.8,"mx":51,"mn":1},{"t":1510,"av":45.8,"mx":51,"mn":21},{"t":1520,"av":45.9,"mx":52,"mn":22},{"t":1530,"av":45.9,"mx":51,"mn":14},{"t":1540,"av":45.9,"mx":51,"mn":21},{"t":1550,"av":45.9,"mx":52,"mn":20},{"t":1560,"av":45.9,"mx":51,"mn":1},{"t":1570,"av":45.9,"mx":51,"mn":22},{"t":1580,"av":45.9,"mx":52,"mn":21},{"t":1590,"av":45.9,"mx":51,"mn":20},{"t":1600,"av":45.9,"mx":53,"mn":21},{"t":1610,"av":45.9,"mx":51,"mn":22},{"t":1620,"av":45.9,"mx":52,"mn":21},{"t":1630,"av":45.9,"mx":51,"mn":20},{"t":1640,"av":45.9,"mx":51,"mn":1},{"t":1650,"av":45.9,"mx":52,"mn":21},{"t":1660,"av":45.9,"mx":51,"mn":22},{"t":1670,"av":45.9,"mx":51,"mn":21},{"t":1680,"av":45.9,"mx":52,"mn":20},{"t":1690,"av":45.9,"mx":51,"mn":1},{"t":1700,"av":45.9,"mx":51,"mn":21},{"t":1710,"av":45.9,"mx":52,"mn":22},{"t":1720,"av":45.9,"mx":51,"mn":21},{"t":1730,"av":45.9,"mx":51,"mn":20},{"t":1740,"av":45.9,"mx":53,"mn":21},{"t":1750,"av":45.9,"mx":51,"mn":22},{"t":1760,"av":45.9,"mx":51,"mn":21},{"t":1770,"av":45.9,"mx":52,"mn":10},{"t":1780,"av":45.9,"mx":51,"mn":21},{"t":1790,"av":45.9,"mx":51,"mn":20},{"t":1800,"av":45.9,"mx":52,"mn":22},{"t":1810,"av":45.9,"mx":51,"mn":21},{"t":1820,"av":45.9,"mx":51,"mn":20},{"t":1830,"av":45.9,"mx":52,"mn":12},{"t":1840,"av":45.9,"mx":51,"mn":21},{"t":1850,"av":45.9,"mx":51,"mn":1},{"t":1860,"av":45.9,"mx":52,"mn":22},{"t":1870,"av":45.9,"mx":51,"mn":21},{"t":1880,"av":45.9,"mx":51,"mn":20},{"t":1890,"av":45.9,"mx":52,"mn":21},{"t":1900,"av":45.9,"mx":51,"mn":22},{"t":1910,"av":45.9,"mx":51,"mn":21},{"t":1920,"av":45.9,"mx":52,"mn":20},{"t":1930,"av":45.9,"mx":51,"mn":21},{"t":1940,"av":45.9,"mx":51,"mn":22},{"t":1950,"av":45.9,"mx":52,"mn":21},{"t":1960,"av":45.9,"mx":51,"mn":20},{"t":1970,"av":45.9,"mx":51,"mn":21},{"t":1980,"av":45.9,"mx":52,"mn":22},{"t":1990,"av":45.9,"mx":51,"mn":21},{"t":2000,"av":45.9,"mx":53,"mn":20},{"t":2010,"av":45.9,"mx":51,"mn":21},{"t":2020,"av":45.9,"mx":52,"mn":22},{"t":2030,"av":45.9,"mx":51,"mn":8},{"t":2040,"av":45.9,"mx":51,"mn":21},{"t":2050,"av":45.9,"mx":52,"mn":21}
],
"dBot":[
{"t":0,"av":29,"mx":35,"mn":25},{"t":10,"av":44,"mx":47,"mn":21},{"t":20,"av":46.5,"mx":49,"mn":1},{"t":30,"av":46.3,"mx":50,"mn":20},{"t":40,"av":46.1,"mx":49,"mn":1},{"t":50,"av":45.9,"mx":50,"mn":21},{"t":60,"av":45.8,"mx":49,"mn":12},{"t":70,"av":45.7,"mx":50,"mn":20},{"t":80,"av":45.5,"mx":49,"mn":1},{"t":90,"av":45.4,"mx":50,"mn":21},{"t":100,"av":45.2,"mx":49,"mn":2},{"t":110,"av":45.1,"mx":50,"mn":20},{"t":120,"av":44.9,"mx":49,"mn":1},{"t":130,"av":44.7,"mx":50,"mn":21},{"t":140,"av":44.5,"mx":50,"mn":7},{"t":150,"av":44.3,"mx":49,"mn":20},{"t":160,"av":44.1,"mx":50,"mn":1},{"t":170,"av":43.8,"mx":49,"mn":17},{"t":180,"av":43.5,"mx":50,"mn":1},{"t":190,"av":43.2,"mx":49,"mn":18},{"t":200,"av":43,"mx":50,"mn":1},{"t":210,"av":42.8,"mx":51,"mn":17},{"t":220,"av":42.7,"mx":52,"mn":13},{"t":230,"av":42.6,"mx":51,"mn":17},{"t":240,"av":42.5,"mx":51,"mn":1},{"t":250,"av":42.3,"mx":52,"mn":16},{"t":260,"av":42.2,"mx":51,"mn":17},{"t":270,"av":42,"mx":52,"mn":1},{"t":280,"av":41.9,"mx":51,"mn":16},{"t":290,"av":41.8,"mx":51,"mn":10},{"t":300,"av":41.6,"mx":52,"mn":17},{"t":310,"av":41.5,"mx":51,"mn":1},{"t":320,"av":41.3,"mx":52,"mn":16},{"t":330,"av":41.2,"mx":51,"mn":16},{"t":340,"av":41.1,"mx":51,"mn":4},{"t":350,"av":41,"mx":52,"mn":16},{"t":360,"av":40.9,"mx":51,"mn":1},{"t":370,"av":40.9,"mx":51,"mn":16},{"t":380,"av":40.9,"mx":52,"mn":15},{"t":390,"av":40.9,"mx":51,"mn":8},{"t":400,"av":41,"mx":51,"mn":16},{"t":410,"av":41.1,"mx":52,"mn":1},{"t":420,"av":41.3,"mx":51,"mn":16},{"t":430,"av":41.5,"mx":51,"mn":17},{"t":440,"av":41.7,"mx":52,"mn":12},{"t":450,"av":41.8,"mx":51,"mn":17},{"t":460,"av":42,"mx":51,"mn":1},{"t":470,"av":42.2,"mx":52,"mn":17},{"t":480,"av":42.4,"mx":51,"mn":18},{"t":490,"av":42.6,"mx":51,"mn":9},{"t":500,"av":42.8,"mx":52,"mn":18},{"t":510,"av":43,"mx":51,"mn":1},{"t":520,"av":43.2,"mx":51,"mn":18},{"t":530,"av":43.3,"mx":52,"mn":18},{"t":540,"av":43.4,"mx":51,"mn":6},{"t":550,"av":43.5,"mx":51,"mn":19},{"t":560,"av":43.6,"mx":52,"mn":18},{"t":570,"av":43.7,"mx":51,"mn":1},{"t":580,"av":43.8,"mx":51,"mn":19},{"t":590,"av":43.9,"mx":52,"mn":19},{"t":600,"av":44,"mx":51,"mn":11},{"t":610,"av":44.1,"mx":51,"mn":19},{"t":620,"av":44.1,"mx":52,"mn":1},{"t":630,"av":44.2,"mx":51,"mn":19},{"t":640,"av":44.2,"mx":51,"mn":19},{"t":650,"av":44.3,"mx":52,"mn":7},{"t":660,"av":44.3,"mx":51,"mn":19},{"t":670,"av":44.4,"mx":51,"mn":1},{"t":680,"av":44.4,"mx":52,"mn":19},{"t":690,"av":44.5,"mx":51,"mn":20},{"t":700,"av":44.5,"mx":51,"mn":1},{"t":710,"av":44.5,"mx":52,"mn":19},{"t":720,"av":44.6,"mx":51,"mn":19},{"t":730,"av":44.6,"mx":53,"mn":2},{"t":740,"av":44.6,"mx":51,"mn":20},{"t":750,"av":44.7,"mx":52,"mn":19},{"t":760,"av":44.7,"mx":51,"mn":1},{"t":770,"av":44.7,"mx":53,"mn":19},{"t":780,"av":44.7,"mx":51,"mn":20},{"t":790,"av":44.8,"mx":51,"mn":12},{"t":800,"av":44.8,"mx":52,"mn":19},{"t":810,"av":44.8,"mx":51,"mn":19},{"t":820,"av":44.8,"mx":51,"mn":1},{"t":830,"av":44.8,"mx":52,"mn":20},{"t":840,"av":44.9,"mx":51,"mn":19},{"t":850,"av":44.9,"mx":51,"mn":3},{"t":860,"av":44.9,"mx":52,"mn":19},{"t":870,"av":44.9,"mx":51,"mn":20},{"t":880,"av":44.9,"mx":51,"mn":1},{"t":890,"av":44.9,"mx":52,"mn":19},{"t":900,"av":45,"mx":51,"mn":20},{"t":910,"av":45,"mx":51,"mn":9},{"t":920,"av":45,"mx":52,"mn":19},{"t":930,"av":45,"mx":51,"mn":20},{"t":940,"av":45,"mx":51,"mn":1},{"t":950,"av":45,"mx":52,"mn":19},{"t":960,"av":45,"mx":51,"mn":20},{"t":970,"av":45,"mx":51,"mn":19},{"t":980,"av":45,"mx":52,"mn":1},{"t":990,"av":45,"mx":51,"mn":20},{"t":1000,"av":45,"mx":51,"mn":19},{"t":1010,"av":45.1,"mx":52,"mn":13},{"t":1020,"av":45.1,"mx":51,"mn":20},{"t":1030,"av":45.1,"mx":51,"mn":19},{"t":1040,"av":45.1,"mx":52,"mn":1},{"t":1050,"av":45.1,"mx":51,"mn":20},{"t":1060,"av":45.1,"mx":51,"mn":19},{"t":1070,"av":45.1,"mx":52,"mn":4},{"t":1080,"av":45.1,"mx":51,"mn":20},{"t":1090,"av":45.1,"mx":51,"mn":19},{"t":1100,"av":45.1,"mx":52,"mn":20},{"t":1110,"av":45.1,"mx":51,"mn":1},{"t":1120,"av":45.1,"mx":53,"mn":19},{"t":1130,"av":45.1,"mx":51,"mn":20},{"t":1140,"av":45.1,"mx":52,"mn":19},{"t":1150,"av":45.1,"mx":51,"mn":20},{"t":1160,"av":45.1,"mx":51,"mn":1},{"t":1170,"av":45.1,"mx":52,"mn":19},{"t":1180,"av":45.1,"mx":51,"mn":20},{"t":1190,"av":45.1,"mx":51,"mn":19},{"t":1200,"av":45.1,"mx":53,"mn":20},{"t":1210,"av":45.1,"mx":51,"mn":3},{"t":1220,"av":45.1,"mx":51,"mn":20},{"t":1230,"av":45.2,"mx":52,"mn":19},{"t":1240,"av":45.2,"mx":51,"mn":20},{"t":1250,"av":45.2,"mx":51,"mn":1},{"t":1260,"av":45.2,"mx":52,"mn":20},{"t":1270,"av":45.2,"mx":51,"mn":19},{"t":1280,"av":45.2,"mx":51,"mn":20},{"t":1290,"av":45.2,"mx":52,"mn":20},{"t":1300,"av":45.2,"mx":51,"mn":1},{"t":1310,"av":45.2,"mx":51,"mn":19},{"t":1320,"av":45.2,"mx":52,"mn":20},{"t":1330,"av":45.2,"mx":51,"mn":20},{"t":1340,"av":45.2,"mx":51,"mn":19},{"t":1350,"av":45.2,"mx":52,"mn":2},{"t":1360,"av":45.2,"mx":51,"mn":20},{"t":1370,"av":45.2,"mx":51,"mn":20},{"t":1380,"av":45.2,"mx":52,"mn":19},{"t":1390,"av":45.2,"mx":51,"mn":20},{"t":1400,"av":45.2,"mx":51,"mn":1},{"t":1410,"av":45.2,"mx":52,"mn":20},{"t":1420,"av":45.2,"mx":51,"mn":20},{"t":1430,"av":45.2,"mx":51,"mn":19},{"t":1440,"av":45.2,"mx":52,"mn":20},{"t":1450,"av":45.2,"mx":51,"mn":10},{"t":1460,"av":45.2,"mx":51,"mn":20},{"t":1470,"av":45.2,"mx":52,"mn":20},{"t":1480,"av":45.2,"mx":51,"mn":1},{"t":1490,"av":45.2,"mx":51,"mn":19},{"t":1500,"av":45.2,"mx":52,"mn":20},{"t":1510,"av":45.2,"mx":51,"mn":20},{"t":1520,"av":45.2,"mx":51,"mn":1},{"t":1530,"av":45.2,"mx":52,"mn":20},{"t":1540,"av":45.2,"mx":51,"mn":19},{"t":1550,"av":45.2,"mx":51,"mn":20},{"t":1560,"av":45.2,"mx":52,"mn":20},{"t":1570,"av":45.2,"mx":51,"mn":1},{"t":1580,"av":45.2,"mx":51,"mn":20},{"t":1590,"av":45.2,"mx":52,"mn":20},{"t":1600,"av":45.2,"mx":51,"mn":19},{"t":1610,"av":45.2,"mx":51,"mn":20},{"t":1620,"av":45.2,"mx":52,"mn":20},{"t":1630,"av":45.2,"mx":51,"mn":3},{"t":1640,"av":45.2,"mx":51,"mn":20},{"t":1650,"av":45.2,"mx":52,"mn":19},{"t":1660,"av":45.2,"mx":51,"mn":20},{"t":1670,"av":45.2,"mx":51,"mn":20},{"t":1680,"av":45.2,"mx":52,"mn":1},{"t":1690,"av":45.2,"mx":51,"mn":20},{"t":1700,"av":45.2,"mx":51,"mn":20},{"t":1710,"av":45.2,"mx":52,"mn":19},{"t":1720,"av":45.2,"mx":51,"mn":20},{"t":1730,"av":45.2,"mx":51,"mn":20},{"t":1740,"av":45.2,"mx":52,"mn":1},{"t":1750,"av":45.2,"mx":51,"mn":20},{"t":1760,"av":45.2,"mx":51,"mn":19},{"t":1770,"av":45.2,"mx":52,"mn":20},{"t":1780,"av":45.2,"mx":51,"mn":20},{"t":1790,"av":45.2,"mx":51,"mn":3},{"t":1800,"av":45.2,"mx":52,"mn":20},{"t":1810,"av":45.2,"mx":51,"mn":20},{"t":1820,"av":45.2,"mx":51,"mn":19},{"t":1830,"av":45.2,"mx":52,"mn":20},{"t":1840,"av":45.2,"mx":51,"mn":1},{"t":1850,"av":45.2,"mx":51,"mn":20},{"t":1860,"av":45.2,"mx":52,"mn":20},{"t":1870,"av":45.2,"mx":51,"mn":19},{"t":1880,"av":45.2,"mx":51,"mn":20},{"t":1890,"av":45.2,"mx":52,"mn":20},{"t":1900,"av":45.2,"mx":51,"mn":1},{"t":1910,"av":45.2,"mx":51,"mn":20},{"t":1920,"av":45.2,"mx":52,"mn":19},{"t":1930,"av":45.2,"mx":51,"mn":20},{"t":1940,"av":45.2,"mx":51,"mn":20},{"t":1950,"av":45.2,"mx":52,"mn":20},{"t":1960,"av":45.2,"mx":51,"mn":19},{"t":1970,"av":45.2,"mx":51,"mn":20},{"t":1980,"av":45.2,"mx":52,"mn":23},{"t":1990,"av":45.2,"mx":51,"mn":20},{"t":2000,"av":45.2,"mx":51,"mn":1},{"t":2010,"av":45.2,"mx":52,"mn":20},{"t":2020,"av":45.2,"mx":51,"mn":19},{"t":2030,"av":45.2,"mx":51,"mn":20},{"t":2040,"av":45.2,"mx":52,"mn":20},{"t":2050,"av":45.2,"mx":51,"mn":20}
]
},
"spacing":3,
"resolve":{"scale":{"color":"independent","shape":"independent","size":"independent"}},
"hconcat":[
{"spacing":3,"bounds":"flush","resolve":{"scale":{"color":"independent","shape":"independent","size":"independent"}},"vconcat":[
 {"width":415,"height":120,"data":{"name":"cTop"},
  "encoding":{"x":{"field":"t","type":"quantitative","scale":{"domain":[0,2060],"nice":false},"axis":{"values":[0,500,1000,1500,2000],"labels":false,"title":null}}},
  "layer":[
   {"mark":{"type":"errorbar","color":"black","ticks":{"size":5}},"encoding":{"y":{"field":"d","type":"quantitative","scale":{"domain":[0,2540],"nice":false},"axis":{"values":[0,1000,2000],"title":"Cells","titleX":-52}},"yError":{"field":"ds"}}},
   {"mark":{"type":"line","color":"black","strokeWidth":1,"point":{"shape":"M-1,-1L1,1M1,-1L-1,1","filled":false,"color":"black","size":20,"strokeWidth":1,"opacity":1}},"encoding":{"y":{"field":"d","type":"quantitative","title":"Cells"}}},
   {"mark":{"type":"errorbar","color":"#ff0000","ticks":{"size":5}},"encoding":{"y":{"field":"b","type":"quantitative","title":"Cells"},"yError":{"field":"bs"}}},
   {"mark":{"type":"line","color":"#ff0000","strokeWidth":1,"point":{"shape":"M-1,-1L1,1M1,-1L-1,1M0,-1.4L0,1.4M-1.4,0L1.4,0","filled":false,"color":"#ff0000","size":30,"strokeWidth":1,"opacity":1}},"encoding":{"y":{"field":"b","type":"quantitative","title":"Cells"}}},
   {"mark":{"type":"line","color":"#0000ff","strokeWidth":1,"point":{"filled":true,"color":"#0000ff","size":8,"opacity":1}},"encoding":{"y":{"field":"a","type":"quantitative","title":"Cells"}}},
   {"transform":[{"filter":"datum.t == 0"}],"mark":{"type":"text","align":"left","baseline":"middle","fontSize":20,"fontWeight":"bold","color":"black"},"encoding":{"x":{"datum":20,"type":"quantitative"},"y":{"datum":2244,"type":"quantitative"},"text":{"value":"(C)"}}},
   {"transform":[{"filter":"datum.t == 0"}],"mark":{"type":"text","align":"left","baseline":"middle","fontSize":21,"color":"black"},"encoding":{"x":{"datum":288,"type":"quantitative"},"y":{"datum":2244,"type":"quantitative"},"text":{"value":"n = 0.25"}}}
  ]},
 {"width":415,"height":232,"data":{"name":"cMid"},
  "transform":[{"fold":["Stem","TA1","TA2-A","TA2-B","P","G","Ec","Ee"],"as":["cell","n"]},{"lookup":"cell","from":{"data":{"values":[{"cell":"Stem","i":0},{"cell":"TA1","i":1},{"cell":"TA2-A","i":2},{"cell":"TA2-B","i":3},{"cell":"P","i":4},{"cell":"G","i":5},{"cell":"Ec","i":6},{"cell":"Ee","i":7}]},"key":"cell","fields":["i"]}}],
  "mark":{"type":"area","interpolate":"monotone","stroke":"black","strokeWidth":1},
  "encoding":{
   "x":{"field":"t","type":"quantitative","scale":{"domain":[0,2060],"nice":false},"axis":{"values":[0,500,1000,1500,2000],"labels":false,"title":null}},
   "y":{"field":"n","type":"quantitative","stack":"zero","scale":{"domain":[0,552],"nice":false},"axis":{"values":[0,100,200,300,400,500],"title":"Cells","titleX":-52}},
   "color":{"field":"cell","type":"nominal","scale":{"domain":["Stem","TA1","TA2-A","TA2-B","P","G","Ec","Ee"],"range":["#000088","#0010ff","#0090ff","#10ffef","#8cfe6a","#fff000","#ff7000","#ee0000"]},"legend":null},
   "order":{"field":"i","type":"quantitative"}}},
 {"width":415,"height":127,"data":{"name":"cBot"},
  "encoding":{"x":{"field":"t","type":"quantitative","scale":{"domain":[0,2060],"nice":false},"axis":{"values":[0,500,1000,1500,2000],"title":"Time (MCS)","titlePadding":0}}},
  "layer":[
   {"mark":{"type":"point","shape":"circle","filled":false,"color":"#00e600","size":34,"strokeWidth":1.2},"encoding":{"y":{"field":"mx","type":"quantitative","scale":{"domain":[0,60.8],"nice":false},"axis":{"values":[0,25,50],"title":"Pixels","titleX":-52}}}},
   {"mark":{"type":"point","shape":"M-1,0L1,0M0,-1L0,1","filled":false,"color":"black","size":36,"strokeWidth":2},"encoding":{"y":{"field":"av","type":"quantitative","title":"Pixels"}}},
   {"mark":{"type":"point","shape":"M-1,-1L1,1M1,-1L-1,1","filled":false,"color":"#ff0000","size":18,"strokeWidth":1.5},"encoding":{"y":{"field":"mn","type":"quantitative","title":"Pixels"}}},
   {"data":{"name":"cMin2"},"mark":{"type":"point","shape":"M-1,-1L1,1M1,-1L-1,1","filled":false,"color":"#ff0000","size":18,"strokeWidth":1.5},"encoding":{"y":{"field":"mn","type":"quantitative","title":"Pixels"}}}
  ]}
]},
{"spacing":0,"center":true,"resolve":{"scale":{"color":"independent","shape":"independent","size":"independent"}},"vconcat":[
 {"width":1,"height":1,"view":{"stroke":null},"data":{"values":[]},"mark":"point"},
 {"width":89,"height":75,
  "title":{"text":["","Mortality"],"lineHeight":16,"offset":9},
  "data":{"values":[{"k":"Alive"},{"k":"Death"},{"k":"Born"}]},
  "encoding":{"y":{"field":"k","type":"nominal","sort":null,"scale":{"type":"point","padding":0.5},"axis":null}},
  "layer":[
   {"mark":{"type":"rule","strokeWidth":1},"encoding":{"x":{"datum":0.07,"type":"quantitative","scale":{"domain":[0,1]},"axis":null},"x2":{"datum":0.4},"color":{"field":"k","type":"nominal","scale":{"domain":["Alive","Death","Born"],"range":["#6666ff","#000000","#ff0000"]},"legend":null}}},
   {"mark":{"type":"point","filled":false,"strokeWidth":1},"encoding":{"x":{"datum":0.24,"type":"quantitative"},"color":{"field":"k","type":"nominal","scale":{"domain":["Alive","Death","Born"],"range":["#0000ff","#000000","#ff0000"]},"legend":null},"shape":{"field":"k","type":"nominal","scale":{"domain":["Alive","Death","Born"],"range":["circle","M-1,-1L1,1M1,-1L-1,1","M-1,-1L1,1M1,-1L-1,1M0,-1.4L0,1.4M-1.4,0L1.4,0"]},"legend":null},"size":{"field":"k","type":"nominal","scale":{"domain":["Alive","Death","Born"],"range":[6,30,40]},"legend":null}}},
   {"mark":{"type":"text","align":"left","baseline":"middle","fontSize":14,"fontWeight":"bold","color":"black"},"encoding":{"x":{"datum":0.44,"type":"quantitative"},"text":{"field":"k"}}}
  ]},
 {"width":84,"height":159,
  "title":{"text":["","Population"],"lineHeight":30,"offset":8},
  "data":{"values":[{"k":"Stem"},{"k":"TA1"},{"k":"TA2-A"},{"k":"TA2-B"},{"k":"P"},{"k":"G"},{"k":"Ec"},{"k":"Ee"}]},
  "encoding":{"y":{"field":"k","type":"nominal","sort":null,"scale":{"type":"band","paddingInner":0.25,"paddingOuter":0.15},"axis":null}},
  "layer":[
   {"mark":{"type":"rect","stroke":"#333333","strokeWidth":1},"encoding":{"x":{"datum":0.05,"type":"quantitative","scale":{"domain":[0,1]},"axis":null},"x2":{"datum":0.38},"color":{"field":"k","type":"nominal","scale":{"domain":["Stem","TA1","TA2-A","TA2-B","P","G","Ec","Ee"],"range":["#000088","#0010ff","#0090ff","#10ffef","#8cfe6a","#fff000","#ff7000","#ee0000"]},"legend":null}}},
   {"mark":{"type":"text","align":"left","baseline":"middle","fontSize":14,"fontWeight":"bold","color":"black"},"encoding":{"x":{"datum":0.4,"type":"quantitative"},"text":{"field":"k"}}}
  ]},
 {"width":107,"height":75,
  "title":{"text":["","Size"],"lineHeight":51,"offset":9},
  "data":{"values":[{"k":"Minimum"},{"k":"Average"},{"k":"Maximum"}]},
  "encoding":{"y":{"field":"k","type":"nominal","sort":null,"scale":{"type":"point","padding":0.5},"axis":null}},
  "layer":[
   {"mark":{"type":"point","filled":false,"strokeWidth":1.5},"encoding":{"x":{"datum":0.18,"type":"quantitative","scale":{"domain":[0,1]},"axis":null},"color":{"field":"k","type":"nominal","scale":{"domain":["Minimum","Average","Maximum"],"range":["#ff0000","#000000","#00e600"]},"legend":null},"shape":{"field":"k","type":"nominal","scale":{"domain":["Minimum","Average","Maximum"],"range":["M-1,-1L1,1M1,-1L-1,1","M-1,0L1,0M0,-1L0,1","circle"]},"legend":null},"size":{"field":"k","type":"nominal","scale":{"domain":["Minimum","Average","Maximum"],"range":[18,30,34]},"legend":null}}},
   {"mark":{"type":"text","align":"left","baseline":"middle","fontSize":14,"fontWeight":"bold","color":"black"},"encoding":{"x":{"datum":0.34,"type":"quantitative"},"text":{"field":"k"}}}
  ]}
]},
{"spacing":3,"bounds":"flush","resolve":{"scale":{"color":"independent","shape":"independent","size":"independent"}},"vconcat":[
 {"width":415,"height":120,"data":{"name":"dTop"},
  "encoding":{"x":{"field":"t","type":"quantitative","scale":{"domain":[0,2060],"nice":false},"axis":{"values":[0,500,1000,1500,2000],"labels":false,"title":null}}},
  "layer":[
   {"mark":{"type":"errorbar","color":"black","ticks":{"size":5}},"encoding":{"y":{"field":"d","type":"quantitative","scale":{"domain":[0,2540],"nice":false},"axis":{"values":[0,1000,2000],"labels":false,"title":null}},"yError":{"field":"ds"}}},
   {"mark":{"type":"line","color":"black","strokeWidth":1,"point":{"shape":"M-1,-1L1,1M1,-1L-1,1","filled":false,"color":"black","size":20,"strokeWidth":1,"opacity":1}},"encoding":{"y":{"field":"d","type":"quantitative","title":null}}},
   {"mark":{"type":"errorbar","color":"#ff0000","ticks":{"size":5}},"encoding":{"y":{"field":"b","type":"quantitative","title":null},"yError":{"field":"bs"}}},
   {"mark":{"type":"line","color":"#ff0000","strokeWidth":1,"point":{"shape":"M-1,-1L1,1M1,-1L-1,1M0,-1.4L0,1.4M-1.4,0L1.4,0","filled":false,"color":"#ff0000","size":30,"strokeWidth":1,"opacity":1}},"encoding":{"y":{"field":"b","type":"quantitative","title":null}}},
   {"mark":{"type":"line","color":"#0000ff","strokeWidth":1,"point":{"filled":true,"color":"#0000ff","size":8,"opacity":1}},"encoding":{"y":{"field":"a","type":"quantitative","title":null}}},
   {"transform":[{"filter":"datum.t == 0"}],"mark":{"type":"text","align":"left","baseline":"middle","fontSize":20,"fontWeight":"bold","color":"black"},"encoding":{"x":{"datum":40,"type":"quantitative"},"y":{"datum":2180,"type":"quantitative"},"text":{"value":"(D)"}}},
   {"transform":[{"filter":"datum.t == 0"}],"mark":{"type":"text","align":"left","baseline":"middle","fontSize":21,"color":"black"},"encoding":{"x":{"datum":253,"type":"quantitative"},"y":{"datum":2180,"type":"quantitative"},"text":{"value":"Only stem cells"}}}
  ]},
 {"width":415,"height":232,"data":{"name":"dMid"},
  "transform":[{"fold":["Stem","TA1","TA2-A","TA2-B","P","G","Ec","Ee"],"as":["cell","n"]},{"lookup":"cell","from":{"data":{"values":[{"cell":"Stem","i":0},{"cell":"TA1","i":1},{"cell":"TA2-A","i":2},{"cell":"TA2-B","i":3},{"cell":"P","i":4},{"cell":"G","i":5},{"cell":"Ec","i":6},{"cell":"Ee","i":7}]},"key":"cell","fields":["i"]}}],
  "mark":{"type":"area","interpolate":"monotone","stroke":"black","strokeWidth":1},
  "encoding":{
   "x":{"field":"t","type":"quantitative","scale":{"domain":[0,2060],"nice":false},"axis":{"values":[0,500,1000,1500,2000],"labels":false,"title":null}},
   "y":{"field":"n","type":"quantitative","stack":"zero","scale":{"domain":[0,552],"nice":false},"axis":{"values":[0,100,200,300,400,500],"labels":false,"title":null}},
   "color":{"field":"cell","type":"nominal","scale":{"domain":["Stem","TA1","TA2-A","TA2-B","P","G","Ec","Ee"],"range":["#000088","#0010ff","#0090ff","#10ffef","#8cfe6a","#fff000","#ff7000","#ee0000"]},"legend":null},
   "order":{"field":"i","type":"quantitative"}}},
 {"width":415,"height":127,"data":{"name":"dBot"},
  "encoding":{"x":{"field":"t","type":"quantitative","scale":{"domain":[0,2060],"nice":false},"axis":{"values":[0,500,1000,1500,2000],"title":"Time (MCS)","titlePadding":0}}},
  "layer":[
   {"mark":{"type":"point","shape":"circle","filled":false,"color":"#00e600","size":34,"strokeWidth":1.2},"encoding":{"y":{"field":"mx","type":"quantitative","scale":{"domain":[0,60.8],"nice":false},"axis":{"values":[0,25,50],"labels":false,"title":null}}}},
   {"mark":{"type":"point","shape":"M-1,0L1,0M0,-1L0,1","filled":false,"color":"black","size":36,"strokeWidth":2},"encoding":{"y":{"field":"av","type":"quantitative","title":null}}},
   {"mark":{"type":"point","shape":"M-1,-1L1,1M1,-1L-1,1","filled":false,"color":"#ff0000","size":18,"strokeWidth":1.5},"encoding":{"y":{"field":"mn","type":"quantitative","title":null}}},
   {"data":{"name":"dMin2"},"mark":{"type":"point","shape":"M-1,-1L1,1M1,-1L-1,1","filled":false,"color":"#ff0000","size":18,"strokeWidth":1.5},"encoding":{"y":{"field":"mn","type":"quantitative","title":null}}}
  ]}
]}
]
}
